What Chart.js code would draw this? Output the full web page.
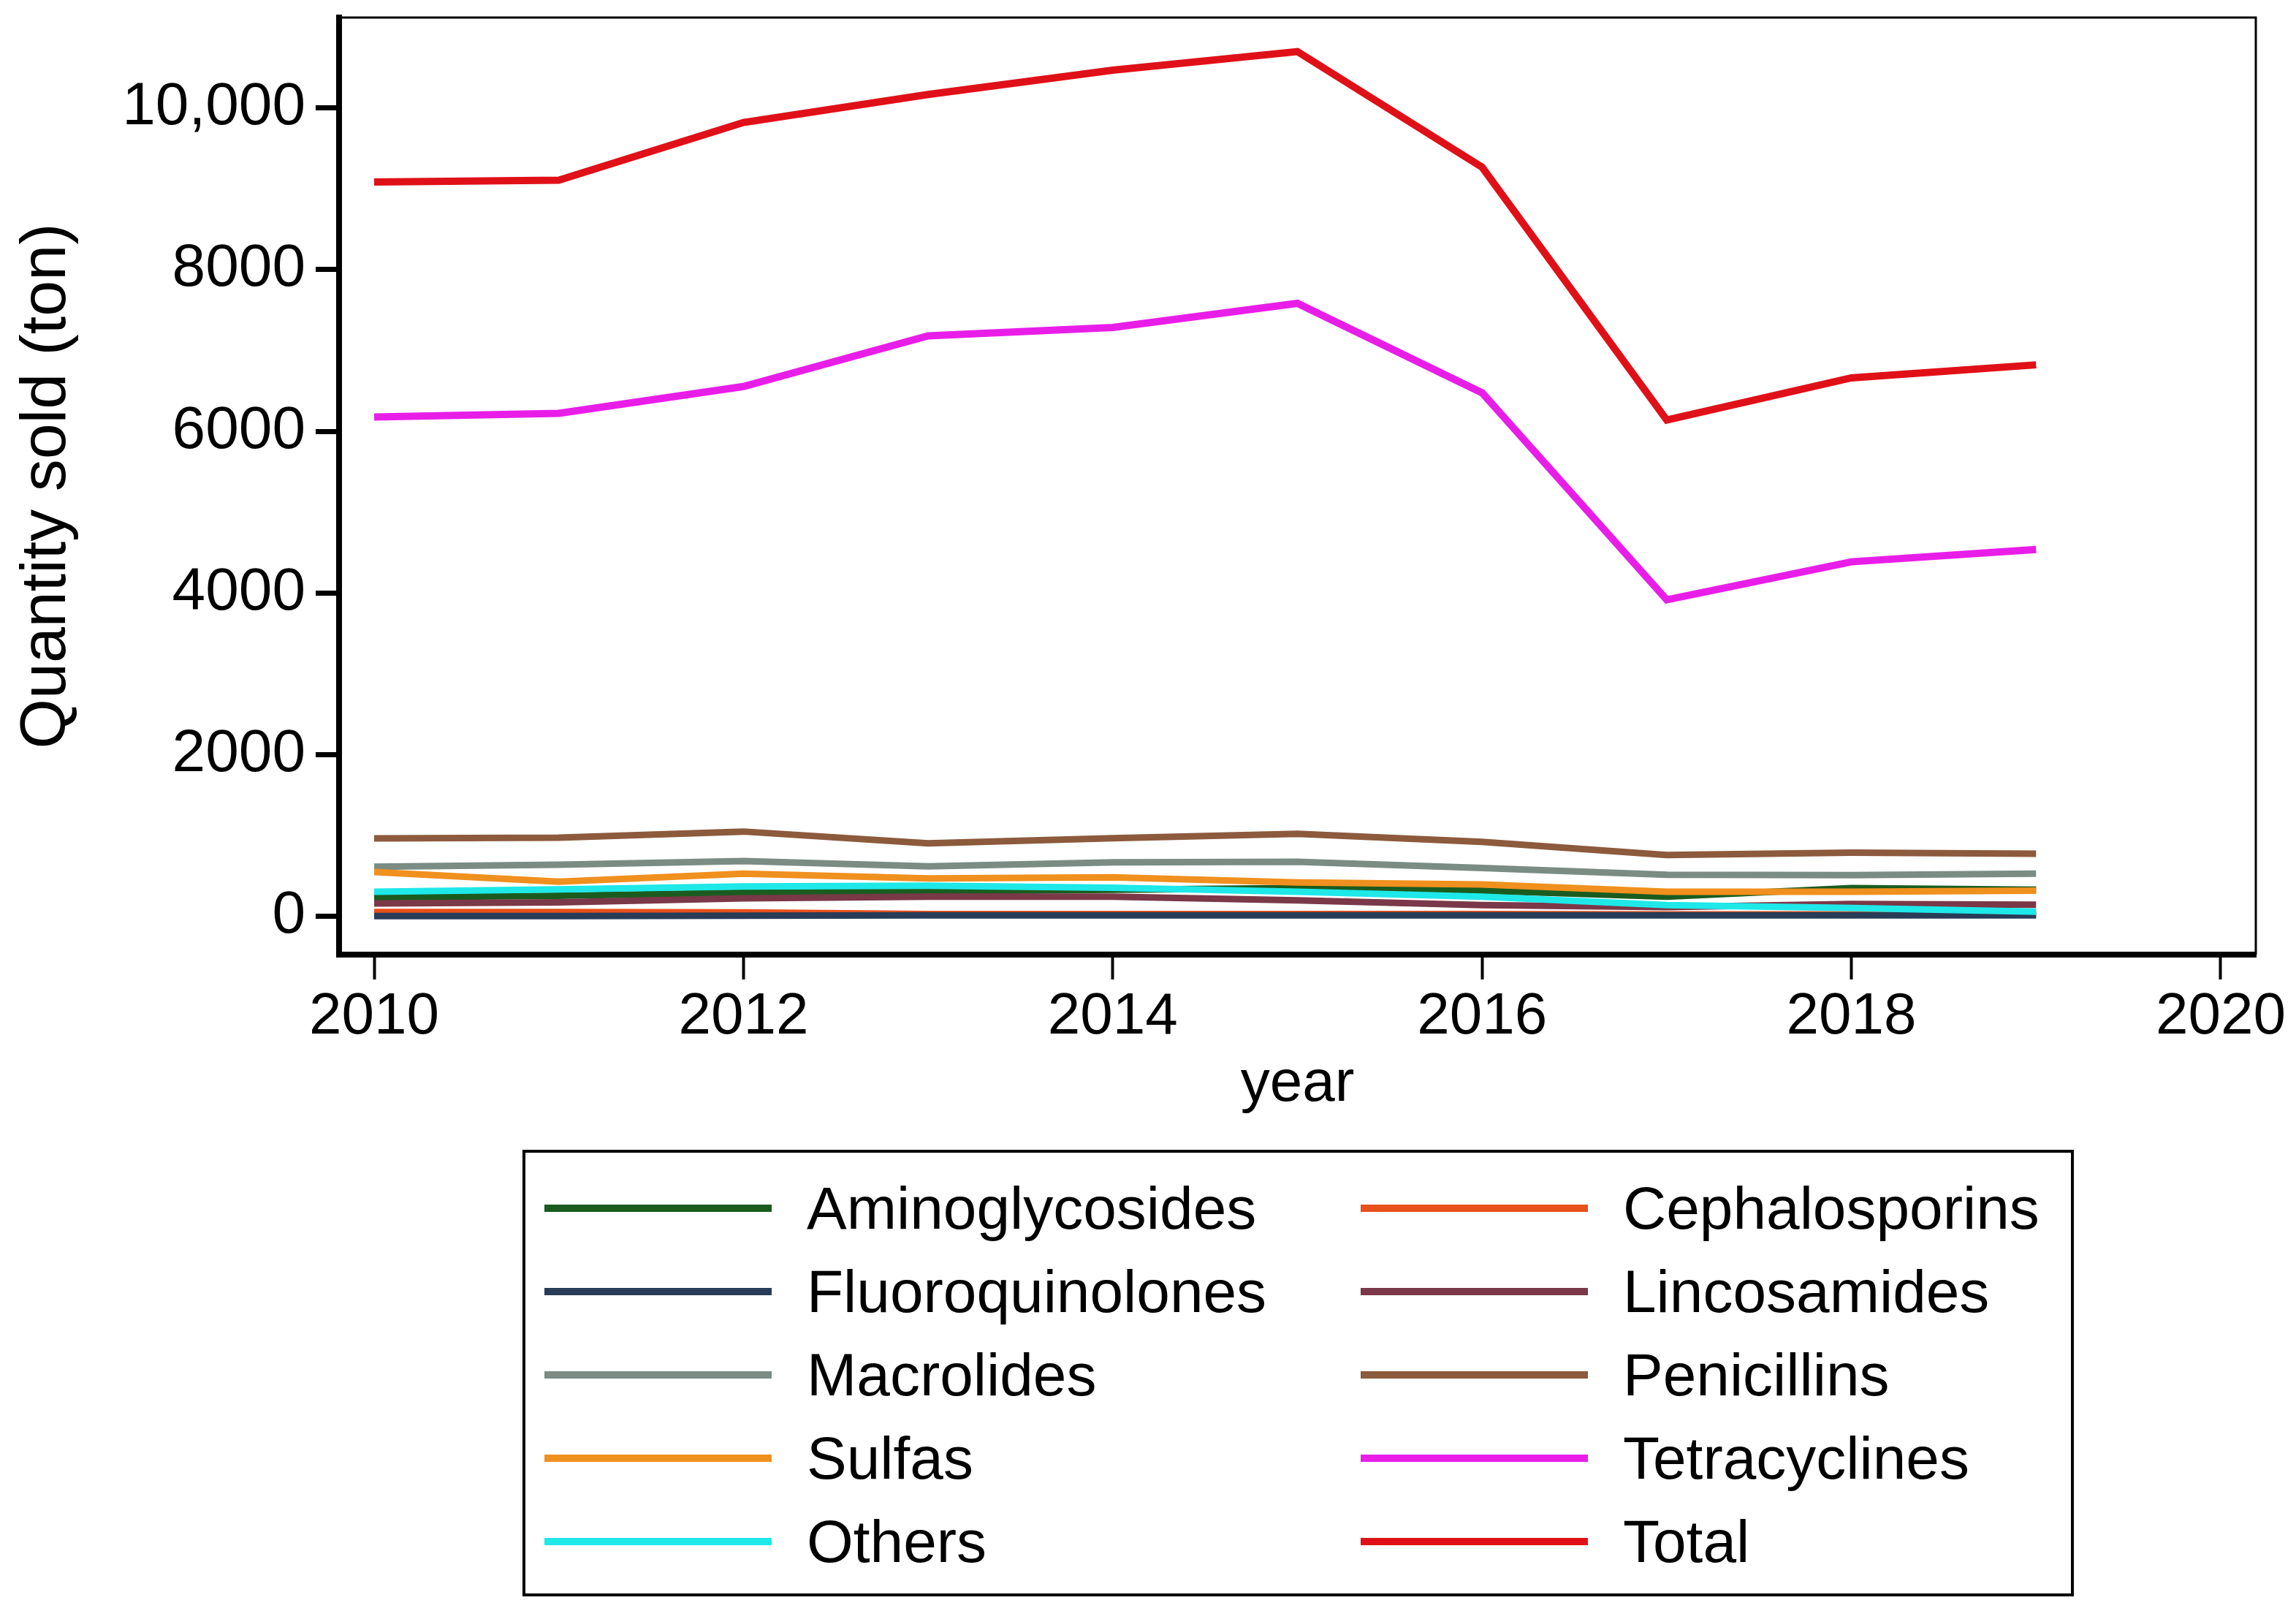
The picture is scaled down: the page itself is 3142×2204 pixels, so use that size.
<!DOCTYPE html>
<html>
<head>
<meta charset="utf-8">
<script src="https://cdn.jsdelivr.net/npm/chart.js@4.4.1/dist/chart.umd.min.js"></script>
<style>
  html, body { margin: 0; padding: 0; background: #fff; }
  #wrap { position: relative; width: 3142px; height: 2204px; }
  #chart { position: absolute; left: 0; top: 0; }
  #legend {
    position: absolute; left: 715px; top: 1573px;
    width: 2115px; height: 603px;
    border: 4px solid #000; background: #fff;
    box-sizing: content-box;
  }
  .item {
    position: absolute; display: flex; align-items: center;
    height: 114px;
    font-family: "Liberation Sans", Arial, Helvetica, sans-serif;
    font-size: 82px; color: #000; white-space: nowrap;
  }
  .swatch { width: 311px; height: 10px; margin-right: 48px; }
</style>
</head>
<body>
<div id="wrap">
  <canvas id="chart" width="3142" height="2204"></canvas>
  <div id="legend"></div>
</div>
<script>
const years = [2010, 2011, 2012, 2013, 2014, 2015, 2016, 2017, 2018, 2019];

const categories = [
  "Aminoglycosides", "Cephalosporins", "Fluoroquinolones", "Lincosamides",
  "Macrolides", "Penicillins", "Sulfas", "Tetracyclines", "Others", "Total"
];

const aminoglycosides = [235, 255, 295, 310, 330, 350, 320, 245, 350, 330];
const cephalosporins = [55, 55, 50, 30, 30, 30, 30, 25, 25, 25];
const fluoroquinolones = [5, 5, 10, 15, 15, 15, 15, 15, 15, 15];
const lincosamides = [160, 175, 225, 245, 245, 200, 140, 115, 155, 145];
const macrolides = [615, 640, 685, 620, 670, 675, 600, 515, 510, 530];
const penicillins = [965, 975, 1050, 905, 968, 1022, 923, 760, 790, 775];
const sulfas = [550, 430, 530, 470, 485, 420, 396, 305, 305, 320];
const tetracyclines = [6176, 6222, 6554, 7181, 7284, 7583, 6476, 3916, 4386, 4539];
const others = [305, 335, 370, 380, 355, 305, 245, 140, 105, 60];
const total = [9082, 9105, 9819, 10166, 10466, 10696, 9266, 6139, 6661, 6822];

const xTicks = [2010, 2012, 2014, 2016, 2018, 2020];
const yTicks = [0, 2000, 4000, 6000, 8000, 10000];
const yTickLabels = ["0", "2000", "4000", "6000", "8000", "10,000"];

const series = [aminoglycosides, cephalosporins, fluoroquinolones, lincosamides,
  macrolides, penicillins, sulfas, tetracyclines, others, total];
const colors = ["#1a5c1f", "#e8501c", "#283c58", "#7a3848", "#7a8c84",
  "#8c5a3c", "#f0901e", "#e81ee8", "#1ee8e8", "#e01018"];

const font = "'Liberation Sans', Arial, Helvetica, sans-serif";

const datasets = categories.map((name, i) => ({
  label: name,
  data: years.map((yr, j) => ({ x: yr, y: series[i][j] })),
  borderColor: colors[i],
  backgroundColor: colors[i],
  borderWidth: i === 7 || i === 9 ? 10 : 9,
  borderJoinStyle: "miter",
  pointRadius: 0,
  tension: 0,
  order: -i,
}));

// thin frame on top and right of the plot region
const frame = {
  id: "frame",
  afterDatasetsDraw(chart) {
    const { ctx, chartArea: a } = chart;
    ctx.save();
    ctx.strokeStyle = "#000";
    ctx.lineWidth = 3;
    ctx.beginPath();
    ctx.moveTo(a.left, a.top);
    ctx.lineTo(a.right, a.top);
    ctx.lineTo(a.right, a.bottom);
    ctx.stroke();
    ctx.restore();
  },
};

new Chart(document.getElementById("chart"), {
  type: "line",
  data: { datasets: datasets },
  options: {
    responsive: false,
    devicePixelRatio: 1,
    animation: false,
    layout: { padding: { left: 0, top: 24, right: 55, bottom: 658 } },
    plugins: { legend: { display: false }, tooltip: { enabled: false } },
    scales: {
      x: {
        type: "linear",
        min: 2009.81,
        max: 2020.19,
        afterBuildTicks: (scale) => { scale.ticks = xTicks.map((v) => ({ value: v })); },
        afterFit: (scale) => { scale.height = 240; scale.paddingLeft = 0; scale.paddingRight = 0; },
        grid: { display: true, drawOnChartArea: false, drawTicks: true, tickLength: 34, tickWidth: 4, tickColor: "#000" },
        border: { display: true, color: "#000", width: 8 },
        ticks: {
          color: "#000", padding: 4, maxRotation: 0, font: { family: font, size: 80 },
          callback: (v) => String(v),
        },
        title: { display: true, text: "year", color: "#000", padding: { top: 0, bottom: 14 }, font: { family: font, size: 80 } },
      },
      y: {
        min: -472,
        max: 11117,
        afterBuildTicks: (scale) => { scale.ticks = yTicks.map((v) => ({ value: v })); },
        afterFit: (scale) => { scale.width = 464; scale.paddingTop = 0; scale.paddingBottom = 0; },
        grid: { display: true, drawOnChartArea: false, drawTicks: true, tickLength: 32, tickWidth: 7, tickColor: "#000" },
        border: { display: true, color: "#000", width: 8 },
        ticks: {
          color: "#000", padding: 14, font: { family: font, size: 82 },
          callback: (v) => yTickLabels[yTicks.indexOf(v)],
        },
        title: { display: true, text: "Quantity sold (ton)", color: "#000", padding: { top: 12, bottom: 0 }, font: { family: font, size: 88 } },
      },
    },
  },
  plugins: [frame],
});

// two-column legend, filled row by row
const legend = document.getElementById("legend");
categories.forEach((name, i) => {
  const row = Math.floor(i / 2);
  const col = i % 2;
  const item = document.createElement("div");
  item.className = "item";
  item.style.left = (col === 0 ? 26 : 1143) + "px";
  item.style.top = (19 + row * 114) + "px";
  const sw = document.createElement("span");
  sw.className = "swatch";
  sw.style.background = colors[i];
  const tx = document.createElement("span");
  tx.textContent = name;
  item.appendChild(sw);
  item.appendChild(tx);
  legend.appendChild(item);
});
</script>
</body>
</html>
